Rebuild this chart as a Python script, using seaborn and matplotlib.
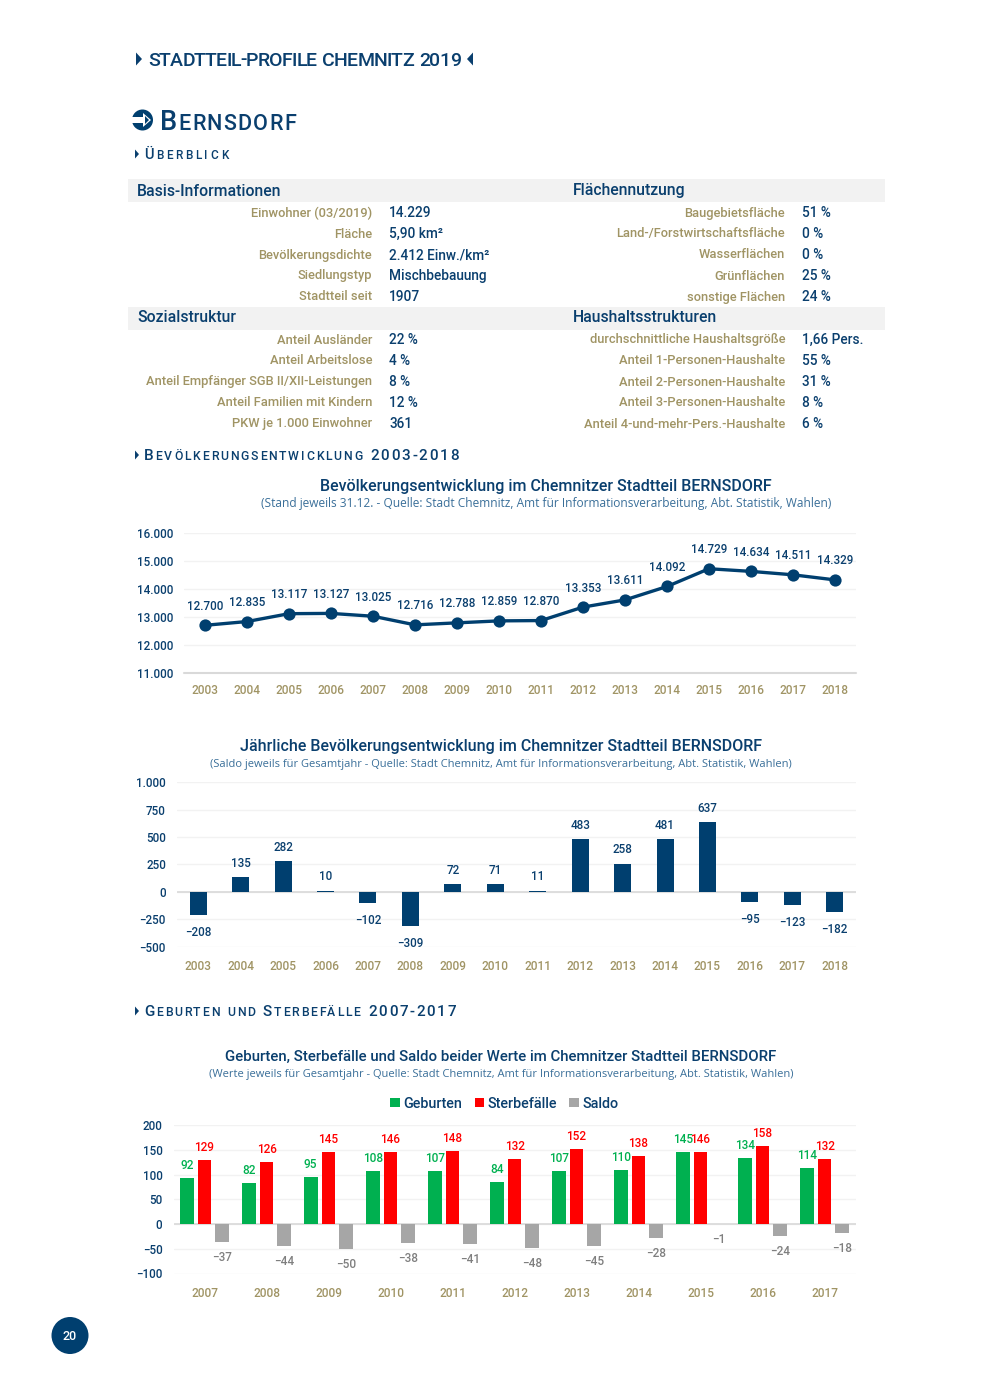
import matplotlib
matplotlib.use('Agg')
import matplotlib.pyplot as plt
from matplotlib.font_manager import FontProperties
from matplotlib.patches import Circle, Polygon, Rectangle
import pandas as pd
import seaborn as sns

# population per year
years = ['2003', '2004', '2005', '2006', '2007', '2008', '2009', '2010',
         '2011', '2012', '2013', '2014', '2015', '2016', '2017', '2018']
population = [12700, 12835, 13117, 13127, 13025, 12716, 12788, 12859,
              12870, 13353, 13611, 14092, 14729, 14634, 14511, 14329]
pop_change = [-208, 135, 282, 10, -102, -309, 72, 71,
              11, 483, 258, 481, 637, -95, -123, -182]

# births / deaths
years_b = ['2007', '2008', '2009', '2010', '2011', '2012', '2013', '2014', '2015', '2016', '2017']
births = [92, 82, 95, 108, 107, 84, 107, 110, 145, 134, 114]
deaths = [129, 126, 145, 146, 148, 132, 152, 138, 146, 158, 132]
saldo = [-37, -44, -50, -38, -41, -48, -45, -28, -1, -24, -18]

basis_labels = ['Einwohner (03/2019)', 'Fläche', 'Bevölkerungsdichte', 'Siedlungstyp', 'Stadtteil seit']
basis_values = ['14.229', '5,90 km²', '2.412 Einw./km²', 'Mischbebauung', '1907']
flaeche_labels = ['Baugebietsfläche', 'Land-/Forstwirtschaftsfläche', 'Wasserflächen', 'Grünflächen', 'sonstige Flächen']
flaeche_values = ['51 %', '0 %', '0 %', '25 %', '24 %']
sozial_labels = ['Anteil Ausländer', 'Anteil Arbeitslose', 'Anteil Empfänger SGB II/XII-Leistungen',
                 'Anteil Familien mit Kindern', 'PKW je 1.000 Einwohner']
sozial_values = ['22 %', '4 %', '8 %', '12 %', '361']
haushalt_labels = ['durchschnittliche Haushaltsgröße', 'Anteil 1-Personen-Haushalte', 'Anteil 2-Personen-Haushalte',
                   'Anteil 3-Personen-Haushalte', 'Anteil 4-und-mehr-Pers.-Haushalte']
haushalt_values = ['1,66 Pers.', '55 %', '31 %', '8 %', '6 %']

NAVY = '#0a3f6e'
BAR = '#003f6f'
TAN = '#a09464'
SUB = '#3a6f99'
GREEN = '#00b050'
RED = '#ff0000'
GREY = '#a6a6a6'
W, H = 990, 1389

sns.set_theme(style='white')
plt.rcParams['font.family'] = ['Roboto', 'DejaVu Sans']
plt.rcParams['axes.unicode_minus'] = True

fig = plt.figure(figsize=(W / 100, H / 100), dpi=100)
page = fig.add_axes([0, 0, 1, 1], zorder=0)
page.set_xlim(0, W)
page.set_ylim(H, 0)
page.axis('off')
rend = fig.canvas.get_renderer()


def chart_axes(left, right, top, bottom):
    return fig.add_axes([left / W, 1 - bottom / H, (right - left) / W, (bottom - top) / H], zorder=2, facecolor='none')


def spaced(x0, x1, y, parts):
    # parts = (text, fontsize); chars get spread so the run ends at x1
    chars = [(c, s) for t, s in parts for c in t]
    widths = []
    for c, s in chars:
        if c == ' ':
            widths.append(s * 0.35 * 100 / 72)
        else:
            fp = FontProperties(family='Roboto', size=s, weight='medium')
            widths.append(rend.get_text_width_height_descent(c, fp, False)[0])
    gap = (x1 - x0 - sum(widths)) / (len(chars) - 1)
    x = x0
    for (c, s), w in zip(chars, widths):
        page.text(x, y, c, fontsize=s, color=NAVY, ha='left', va='baseline', weight='medium')
        x += w + gap


def tri(x, y, h, w, right=True):
    tip = x + w if right else x - w
    page.add_patch(Polygon([(x, y - h), (tip, y), (x, y + h)], color=NAVY, lw=0))


def style(ax, pad_x):
    sns.despine(ax=ax, left=True, bottom=True)
    ax.grid(axis='y', color='#f2f2f2', lw=1)
    ax.set_axisbelow(True)
    ax.set_xlabel('')
    ax.set_ylabel('')
    ax.tick_params(axis='y', length=0, pad=8, labelsize=8.4, labelcolor=NAVY)
    ax.tick_params(axis='x', length=0, pad=pad_x, labelsize=8.6, labelcolor=TAN)
    for lab in ax.get_xticklabels() + ax.get_yticklabels():
        lab.set_fontweight('medium')


def de_num(v):
    return f'{v:,}'.replace(',', '.').replace('-', '\u2212')


# header area
tri(136, 59, 6.5, 6)
spaced(148, 461, 65.5, [('STADTTEIL-PROFILE CHEMNITZ 2019', 14)])
tri(473, 59, 6.5, 6, right=False)

page.add_patch(Circle((142.5, 120), 10.5, color=BAR, lw=0))
page.add_patch(Rectangle((131, 117), 15, 6, color='white', lw=0))
page.add_patch(Polygon([(143, 113), (151, 120), (143, 127)], color='white', lw=0))
page.add_patch(Polygon([(145, 116), (149, 120), (145, 124)], color=BAR, lw=0))
spaced(160, 296, 129.5, [('B', 19.5), ('ERNSDORF', 15.5)])

tri(135, 154, 4.5, 4)
spaced(144, 228, 159, [('Ü', 10.5), ('BERBLICK', 8.5)])
tri(135, 455, 4.5, 4)
spaced(144, 459, 460, [('B', 11), ('EVÖLKERUNGSENTWICKLUNG', 8.8), (' ', 8.8), ('2003-2018', 11)])
tri(135, 1011, 4.5, 4)
spaced(144, 456, 1016, [('G', 11), ('EBURTEN UND ', 8.8), ('S', 11), ('TERBEFÄLLE', 8.8), (' ', 8.8), ('2007-2017', 11)])

# table
for top in [179, 307]:
    page.add_patch(Rectangle((128, top), 757, 23, color='#f2f2f2', lw=0))
for x, y, t in [(137, 191, 'Basis-Informationen'), (573, 191, 'Flächennutzung'),
                (137, 318, 'Sozialstruktur'), (573, 318, 'Haushaltsstrukturen')]:
    page.text(x, y, t, fontsize=11.3, color=NAVY, va='center', weight='medium')

blocks = [(372, 213, basis_labels, basis_values), (785, 213, flaeche_labels, flaeche_values),
          (372, 340, sozial_labels, sozial_values), (785, 340, haushalt_labels, haushalt_values)]
for xr, y0, labels, values in blocks:
    for i, (l, v) in enumerate(zip(labels, values)):
        page.text(xr, y0 + i * 21, l, fontsize=9.3, color=TAN, ha='right', va='center', weight='medium')
        page.text(xr + 17, y0 + i * 21, v, fontsize=9.8, color=NAVY, ha='left', va='center', weight='medium')

# chart titles
for cx, y, t, s, ts, ss, dy in [
    (546, 486, 'Bevölkerungsentwicklung im Chemnitzer Stadtteil BERNSDORF',
     '(Stand jeweils 31.12. - Quelle: Stadt Chemnitz, Amt für Informationsverarbeitung, Abt. Statistik, Wahlen)',
     11.5, 8.55, 18),
    (501, 747, 'Jährliche Bevölkerungsentwicklung im Chemnitzer Stadtteil BERNSDORF',
     '(Saldo jeweils für Gesamtjahr - Quelle: Stadt Chemnitz, Amt für Informationsverarbeitung, Abt. Statistik, Wahlen)',
     11.5, 8.05, 17),
    (501, 1057, 'Geburten, Sterbefälle und Saldo beider Werte im Chemnitzer Stadtteil BERNSDORF',
     '(Werte jeweils für Gesamtjahr - Quelle: Stadt Chemnitz, Amt für Informationsverarbeitung, Abt. Statistik, Wahlen)',
     10.85, 8.0, 17),
]:
    page.text(cx, y, t, fontsize=ts, color=NAVY, ha='center', va='center', weight='medium')
    page.text(cx, y + dy, s, fontsize=ss, color=SUB, ha='center', va='center', family=['Open Sans', 'DejaVu Sans'])

# line chart
ax1 = chart_axes(184, 856, 533.3, 672.7)
df1 = pd.DataFrame({'Jahr': years, 'Einwohner': population})
sns.lineplot(data=df1, x='Jahr', y='Einwohner', ax=ax1, color=BAR, lw=2.4, marker='o', markersize=8.8,
             markeredgewidth=0, sort=False)
ax1.set_xlim(-0.5, 15.5)
ax1.set_ylim(11000, 16000)
ax1.set_yticks([11000, 12000, 13000, 14000, 15000, 16000])
ax1.set_yticklabels([de_num(v) for v in ax1.get_yticks().astype(int)])
style(ax1, 8)
ax1.axhline(11000, color='#d9d9d9', lw=1.5, clip_on=False)
for i, v in enumerate(population):
    ax1.annotate(de_num(v), (i, v), xytext=(0, 13.7), textcoords='offset points', ha='center', va='center',
                 fontsize=8.4, color=NAVY, weight='medium')

# yearly change
ax2 = chart_axes(177, 856, 782.3, 946.7)
df2 = pd.DataFrame({'Jahr': years, 'Saldo': pop_change})
sns.barplot(data=df2, x='Jahr', y='Saldo', ax=ax2, color=BAR, saturation=1, width=0.4, linewidth=0, edgecolor='none')
ax2.set_xlim(-0.5, 15.5)
ax2.set_ylim(-500, 1000)
ax2.set_yticks([-500, -250, 0, 250, 500, 750, 1000])
ax2.set_yticklabels([de_num(int(v)) for v in ax2.get_yticks()])
style(ax2, 9.5)
ax2.axhline(0, color='#d9d9d9', lw=1.2, zorder=0.6)
for i, v in enumerate(pop_change):
    ax2.annotate(de_num(v), (i, v), xytext=(0, 10 if v > 0 else -12.5), textcoords='offset points', ha='center',
                 va='center', fontsize=8.4, color=NAVY, weight='medium')

# births and deaths
ax3 = chart_axes(173.5, 855.5, 1125, 1273.5)
df3 = pd.DataFrame({'Jahr': years_b * 3,
                    'Art': ['Geburten'] * len(births) + ['Sterbefälle'] * len(deaths) + ['Saldo'] * len(saldo),
                    'Wert': births + deaths + saldo})
sns.barplot(data=df3, x='Jahr', y='Wert', hue='Art', ax=ax3, palette=[GREEN, RED, GREY], saturation=1,
            width=0.86, gap=0.22, linewidth=0, edgecolor='none')
ax3.set_xlim(-0.5, 10.5)
ax3.set_ylim(-100, 200)
ax3.set_yticks([-100, -50, 0, 50, 100, 150, 200])
ax3.set_yticklabels([de_num(int(v)) for v in ax3.get_yticks()])
style(ax3, 9.5)
ax3.axhline(0, color='#d9d9d9', lw=1.2, zorder=0.6)
for container, col in zip(ax3.containers, [GREEN, RED, '#7f7f7f']):
    for bar in container:
        v = int(bar.get_height())
        off = 9 if v >= 0 else -11
        ax3.annotate(de_num(v), (bar.get_x() + bar.get_width() / 2, v), xytext=(0, off),
                     textcoords='offset points', ha='center', va='center', fontsize=8.5, color=col, weight='medium')
leg = ax3.legend(loc='center', bbox_to_anchor=(504.5 / W, 1 - 1103.5 / H), bbox_transform=fig.transFigure, ncol=3,
                 frameon=False, handlelength=0.65, handleheight=0.65, handletextpad=0.25, columnspacing=0.85,
                 prop=FontProperties(family='Roboto', size=10.4, weight='medium'), title=None)
for t in leg.get_texts():
    t.set_color(NAVY)

# page number
page.add_patch(Circle((70, 1335.5), 18.5, color=BAR, lw=0))
page.text(70, 1337, '20', color='white', fontsize=9, ha='center', va='center', weight='medium')

fig.savefig('out.png', dpi=100)
